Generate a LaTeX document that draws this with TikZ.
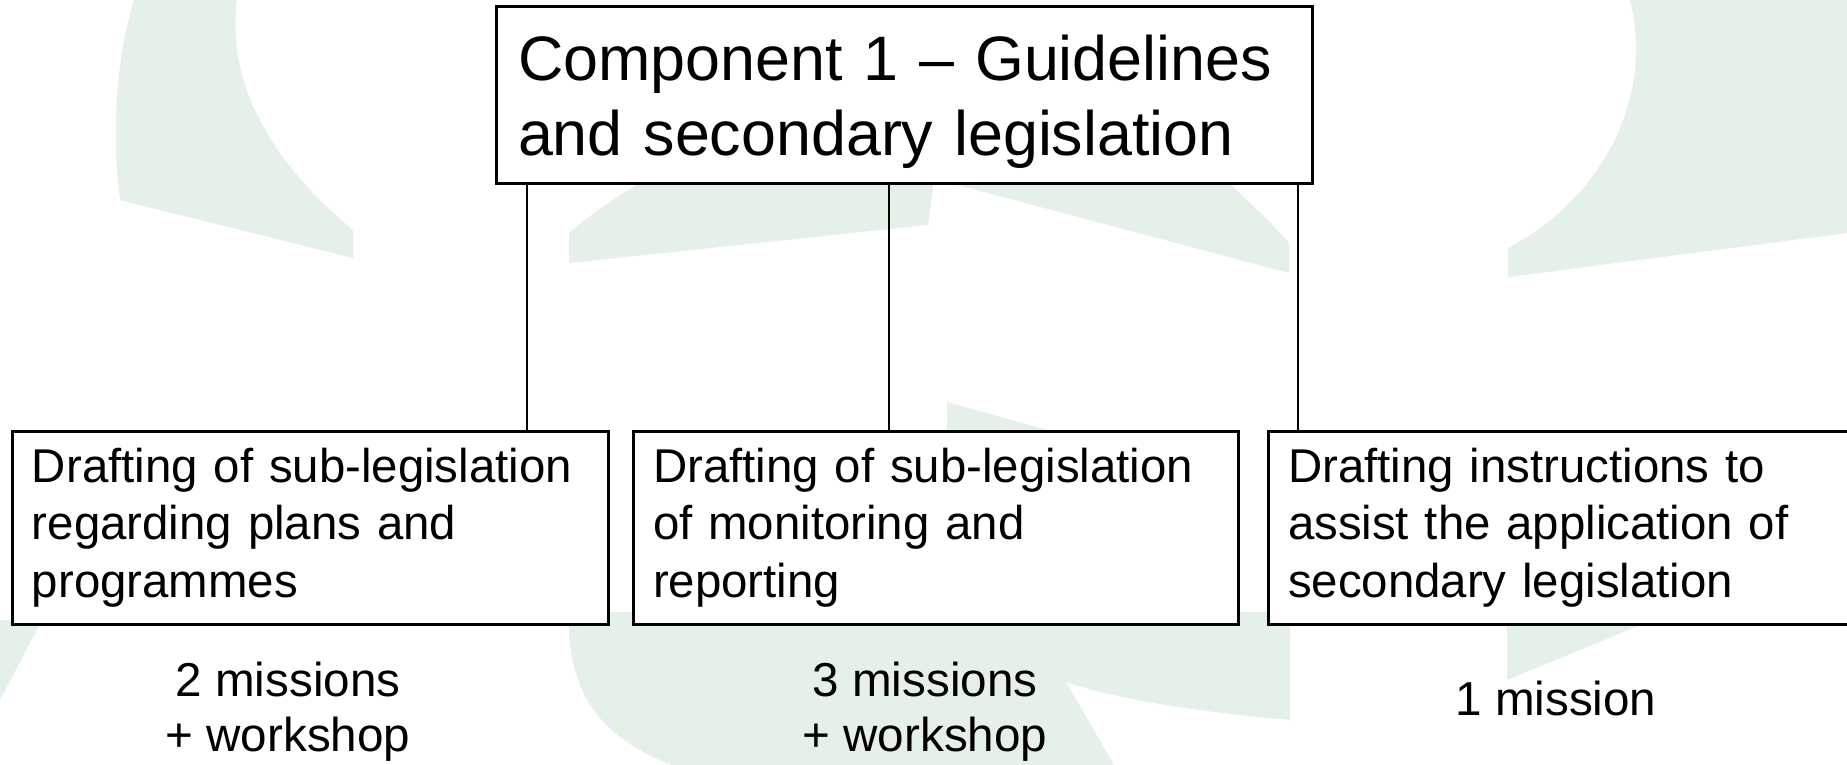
\documentclass[tikz,border=0pt]{standalone}
\usepackage{fontspec}
\setmainfont{Liberation Sans}
\usetikzlibrary{positioning}
\definecolor{leafgreen}{HTML}{E5F0E8}
\tikzset{
  box/.style={draw,line width=1.5pt,fill=white,anchor=north west,outer sep=0pt,align=left,inner xsep=10pt,inner ysep=0pt,minimum height=96.5pt,font=\fontsize{23.7}{28.75}\selectfont},
  note/.style={align=center,inner sep=0pt,font=\fontsize{23.8}{27.5}\selectfont},
  link/.style={line width=1.2pt},
  leaf/.style={fill=leafgreen}
}

\begin{document}
\begin{tikzpicture}[x=0.5pt,y=-0.5pt]
  \useasboundingbox (0,0) rectangle (1847,765);
  \fill[white] (0,0) rectangle (1847,765);
  \fill[leaf] (134,0) .. controls (115,60) and (112,140) .. (120,200) -- (353,258) -- (353,230) .. controls (280,170) and (225,90) .. (237,0) -- cycle;
  \fill[leaf] (569,263) -- (569,233) .. controls (595,210) and (640,180) .. (700,150) -- (938,150) -- (928,225) -- cycle;
  \fill[leaf] (935,150) -- (950,183) -- (1289,273) -- (1289,243) .. controls (1265,215) and (1235,190) .. (1195,150) -- cycle;
  \fill[leaf] (1630,0) .. controls (1655,100) and (1600,200) .. (1508,248) -- (1508,277) -- (1847,233) -- (1847,0) -- cycle;
  \fill[leaf] (947,402) -- (1090,442) -- (947,442) -- cycle;
  \fill[leaf] (569,612) -- (1290,612) -- (1290,720) .. controls (1200,712) and (1120,700) .. (1066,682) -- (1114,765) -- (672,765) .. controls (612,742) and (572,705) .. (569,630) -- cycle;
  \fill[leaf] (1507,612) -- (1672,612) -- (1507,680) -- cycle;
  \fill[leaf] (0,620) -- (42,620) -- (0,700) -- cycle;

  \node[box,text width=386pt,inner xsep=11pt,minimum height=88pt,text height=30pt,font=\fontsize{31.4}{37.5}\selectfont] (comp) at (496,7) {Component 1 – Guidelines\\and secondary legislation};
  \node[box,text width=278pt] (d1) at (12,431) {Drafting of sub-legislation\\regarding plans and\\programmes};
  \node[box,text width=282.5pt,right=12.5pt of d1] (d2) {Drafting of sub-legislation\\of monitoring and\\reporting};
  \node[box,text width=290pt,right=15pt of d2] (d3) {Drafting instructions to\\assist the application of\\secondary legislation};

  \node[note] (m1) at (288,712) {2 missions\\+ workshop};
  \node[note] (m2) at (925,712) {3 missions\\+ workshop};
  \node[note] (m3) at (1556,698) {1 mission};

  \coordinate (k1) at (527,0);
  \coordinate (k2) at (889,0);
  \coordinate (k3) at (1298,0);
  \foreach \k/\d in {k1/d1,k2/d2,k3/d3}
    \draw[link] (comp.south -| \k) -- (\d.north -| \k);
\end{tikzpicture}
\end{document}
